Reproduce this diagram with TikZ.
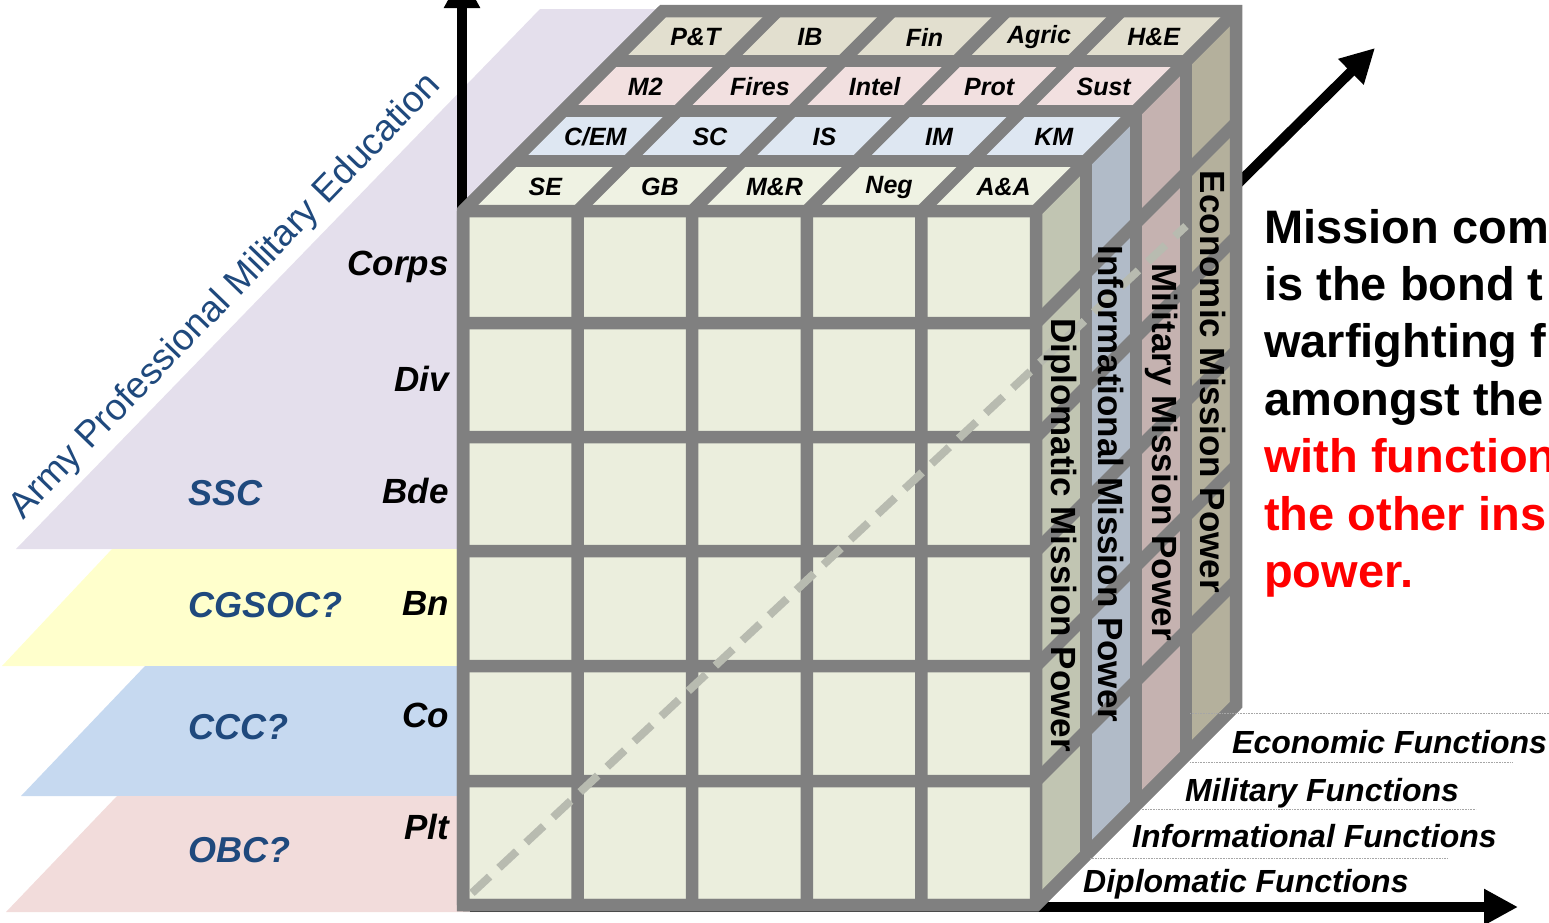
\documentclass[tikz,border=0pt]{standalone}
\usepackage{fontspec}
\setmainfont{Liberation Sans}
\usetikzlibrary{arrows.meta}
\definecolor{bargray}{RGB}{128,128,128}
\definecolor{frontcell}{RGB}{235,238,221}
\definecolor{dipTop}{RGB}{239,242,227}
\definecolor{infTop}{RGB}{222,231,242}
\definecolor{milTop}{RGB}{242,224,224}
\definecolor{ecoTop}{RGB}{226,223,207}
\definecolor{dipSide}{RGB}{193,197,178}
\definecolor{infSide}{RGB}{177,187,200}
\definecolor{milSide}{RGB}{197,178,176}
\definecolor{ecoSide}{RGB}{180,176,156}
\definecolor{pmeblue}{RGB}{31,73,125}
\definecolor{sscplane}{RGB}{228,223,236}
\definecolor{cgsocplane}{RGB}{255,255,204}
\definecolor{cccplane}{RGB}{198,217,240}
\definecolor{obcplane}{RGB}{242,220,219}
\definecolor{diagdash}{RGB}{184,187,176}

\begin{document}
\begin{tikzpicture}[x=1pt, y=-1pt,
		bar/.style={draw=bargray, line width=12.5pt},
		axis/.style={line width=10pt, -{Triangle[length=34pt, width=34pt]}},
		lvl/.style={anchor=east, inner sep=0pt, font=\fontsize{35}{40}\selectfont\bfseries\itshape},
		pme/.style={anchor=west, inner sep=0pt, text=pmeblue, font=\fontsize{36}{40}\selectfont\bfseries\itshape},
		tag/.style={inner sep=0pt, font=\fontsize{25}{28}\selectfont\bfseries\itshape},
		side/.style={rotate=-90, inner sep=0pt, font=\fontsize{35}{40}\selectfont\bfseries},
		fn/.style={anchor=base west, inner sep=0pt, font=\fontsize{32}{36}\selectfont\bfseries\itshape},
		msg/.style={anchor=base west, inner sep=0pt, font=\fontsize{47}{57}\selectfont\bfseries}]
	\useasboundingbox (0, 0) rectangle (1549, 922);

	\fill[sscplane] (16, 549) -- (540, 9) -- (800, 9) -- (800, 549) -- cycle;
	\fill[cgsocplane] (2, 666) -- (112, 549) -- (800, 549) -- (800, 666) -- cycle;
	\fill[cccplane] (21, 796) -- (145, 666) -- (800, 666) -- (800, 796) -- cycle;
	\fill[obcplane] (6, 912) -- (117, 796) -- (800, 796) -- (800, 912) -- cycle;
	\node[text=pmeblue, rotate=46, inner sep=0pt, font=\fontsize{37}{40}\selectfont] (apme) at (226, 297) {Army Professional Military Education};

	\draw[axis] (462, 905) -- (462, -26);
	\draw[axis] (470, 907) -- (1518, 907);
	\draw[axis] (1200, 221) -- (1375, 48);

	\fill[frontcell] (463, 211) rectangle (1036, 905);
	\foreach \k/\tc/\sc in {0/dipTop/dipSide, 1/infTop/infSide, 2/milTop/milSide, 3/ecoTop/ecoSide}{
		\fill[\tc] ({463+50*\k}, {211-50*\k}) -- ++(573, 0) -- ++(50, -50) -- ++(-573, 0) -- cycle;
		\fill[\sc] ({1036+50*\k}, {211-50*\k}) -- ++(50, -50) -- ++(0, 694) -- ++(-50, 50) -- cycle;
	}
	\foreach \x in {463, 577.6, 692.2, 806.8, 921.4, 1036}
		\draw[bar] (\x, 211) -- (\x, 905) (\x, 211) -- ++(200, -200);
	\foreach \y in {211, 323, 437, 551, 666, 781, 905}
		\draw[bar] (463, \y) -- (1036, \y) -- ++(200, -200);
	\foreach \d in {50, 100, 150, 200}
		\draw[bar] ({463+\d}, {211-\d}) -- ({1036+\d}, {211-\d}) -- ({1036+\d}, {905-\d});
	\draw[bar, line join=miter] (463, 905) -- (463, 211) -- (663, 11) -- (1236, 11) -- (1236, 705) -- (1036, 905) -- cycle;

	\draw[diagdash, line width=8pt, dash pattern=on 24pt off 13pt] (472, 893) -- (1186, 226);

	\foreach \k/\row in {0/{SE,GB,M\&R,Neg,A\&A}, 1/{C/EM,SC,IS,IM,KM}, 2/{M2,Fires,Intel,Prot,Sust}, 3/{P\&T,IB,Fin,Agric,H\&E}}
		\foreach \t [count=\c] in \row
			\node[tag] (top\k\c) at ({463+114.6*(\c-0.5)+50*\k+25}, {187-50*\k}) {\t};

	\node[side] (dip) at (1061, 535) {Diplomatic Mission Power};
	\node[side] (inf) at (1111, 484) {Informational Mission Power};
	\node[side] (mil) at (1162, 452) {Military Mission Power};
	\node[side] (eco) at (1213, 382) {Economic Mission Power};

	\foreach \t [count=\i from 0] in {Corps, Div, Bde, Bn, Co, Plt}
		\node[lvl] (lvl\i) at (449, {267+112*\i}) {\t};
	\foreach \t/\y [count=\i] in {SSC/493, CGSOC?/605, CCC?/727, OBC?/850}
		\node[pme] (pme\i) at (188, \y) {\t};

	\foreach \y/\a/\b in {713/1190/1549, 762/1190/1512, 809/1140/1476, 858/1090/1447}
		\draw[gray!70, densely dotted, line width=0.6pt] (\a, \y) -- (\b, \y);
	\foreach \t/\x/\y [count=\i] in {Economic/1232/753, Military/1185/801, Informational/1132/847, Diplomatic/1083/892}
		\node[fn] (fn\i) at (\x, \y) {\t{} Functions};

	\foreach \t [count=\i from 0] in {Mission com, is the bond t, warfighting f, amongst the}
		\node[msg] (msg\i) at (1264, {243+57.4*\i}) {\t};
	\foreach \t [count=\i from 4] in {with function, the other ins, power.}
		\node[msg, text=red] (msg\i) at (1264, {243+57.4*\i}) {\t};
\end{tikzpicture}
\end{document}
